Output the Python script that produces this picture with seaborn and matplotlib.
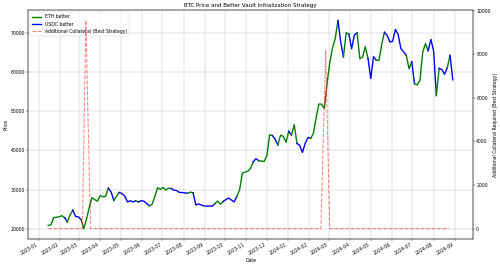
import numpy as np
import pandas as pd
import matplotlib
matplotlib.use("Agg")
import matplotlib.pyplot as plt
import matplotlib.dates as mdates
from matplotlib.lines import Line2D
import seaborn as sns

# BTC price sampled every 4 days, 2023-01-15 .. 2024-08-29
dates = pd.date_range("2023-01-15", periods=149, freq="4D")
btc_price = np.array([
    20900, 21100, 22900, 23000, 23100, 23400, 22900, 21800, 23600, 24800,
    23200, 23100, 22400, 20100, 22500, 25500, 28000, 27500, 27100, 28500,
    28200, 28300, 30400, 29400, 27300, 28300, 29300, 29000, 28400, 26900,
    27200, 26900, 27200, 26900, 27200, 27100, 26500, 25900, 26300, 28300,
    30500, 30100, 30600, 29900, 30400, 30300, 29900, 29800, 29300, 29300,
    29200, 29100, 29400, 29200, 26100, 26400, 26100, 25900, 25800, 25900,
    25800, 26500, 27100, 26300, 27000, 27500, 27900, 27400, 26900, 28300,
    29900, 34200, 34500, 34700, 35400, 37100, 37900, 37400, 37300, 37200,
    38700, 44000, 43800, 42900, 41400, 43900, 43600, 42100, 44900, 43900,
    46600, 41800, 41300, 39500, 41800, 43300, 43100, 44300, 48300, 51800,
    51800, 50700, 57000, 62400, 66100, 68500, 73100, 67600, 63800, 70000,
    69600, 65900, 69400, 70000, 63400, 63800, 66400, 63400, 58300, 63900,
    63000, 62900, 67000, 70100, 69300, 67600, 67800, 70800, 69600, 66000,
    65100, 64200, 60800, 62600, 57000, 56700, 57900, 65000, 67200, 65400,
    68300, 65300, 54000, 60900, 60600, 59400, 61100, 64200, 58000,
])
# which vault start is better from each sample on: E = ETH, U = USDC
better_vault = list(
    "EEEEEE" "U" "EE" "UUU" "EEEEEEEEEE" "UU" "EE" "UUUUUU" "E" "UUUU"
    "EEEEEEEE" "UUUUUU" "EE" "UUUUUUUU" "EEE" "UUUUU" "EEEEEE" "UU" "EEEEE"
    "UU" "EEEE" "U" "EE" "UUUUU" "EEEEEEEEEE" "UU" "EE" "UUU" "EEEE" "UUU"
    "EEE" "UUUUUUUU" "EE" "U" "EEEEE" "UUU" "E" "UUU" "E" "UU"
)

collateral_dates = pd.to_datetime([
    "2023-01-15", "2023-03-06", "2023-03-11", "2023-03-18",
    "2024-02-18", "2024-02-25", "2024-03-02", "2024-08-23",
])
collateral_required = [0, 0, 9550, 0, 0, 8170, 0, 0]

vault_colors = {"E": "green", "U": "blue"}

fig, ax = plt.subplots(figsize=(15, 7.95), dpi=100 / 3)

start = 0
n = len(dates)
for i in range(1, n):
    if better_vault[i] != better_vault[start] or i == n - 1:
        seg = slice(start, i + 1)
        sns.lineplot(x=dates[seg], y=btc_price[seg], color=vault_colors[better_vault[start]],
                     lw=3, estimator=None, sort=False, ax=ax)
        start = i

ax2 = ax.twinx()
sns.lineplot(x=collateral_dates, y=collateral_required, color="red", ls="--",
             alpha=0.5, lw=2.2, estimator=None, sort=False, ax=ax2)

ax.xaxis.set_major_locator(mdates.MonthLocator())
ax.xaxis.set_major_formatter(mdates.DateFormatter("%Y-%m"))
ax.grid(True)
ax2.grid(False)

ax.set_xlabel("Date")
ax.set_ylabel("Price")
ax2.set_ylabel("Additional Collateral Required (Best Strategy)")
ax.set_title("BTC Price and Better Vault Initialization Strategy")

handles = [
    Line2D([], [], color="green", lw=3, label="ETH better"),
    Line2D([], [], color="blue", lw=3, label="USDC better"),
    Line2D([], [], color="red", ls="--", alpha=0.5, lw=2.2, label="Additional Collateral (Best Strategy)"),
]
ax.legend(handles=handles, loc="upper left")

fig.autofmt_xdate()
fig.subplots_adjust(left=0.056, right=0.946, top=0.962, bottom=0.098)
fig.savefig("out.png", dpi=100 / 3)
